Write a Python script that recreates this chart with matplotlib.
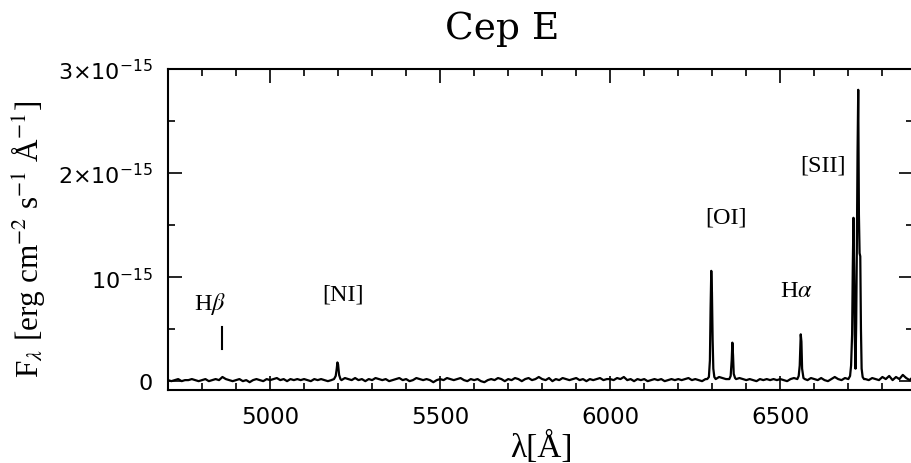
import numpy as np
import matplotlib
matplotlib.use('Agg')
import matplotlib.pyplot as plt
from matplotlib.ticker import MultipleLocator

# continuum on a 10 A grid (units of 1e-15 erg cm-2 s-1 A-1)
cont_wave = np.arange(4700, 6900, 10)
cont_flux = [
    0.01, 0.00, 0.01, 0.02, 0.00, 0.01, 0.01, 0.02, 0.01, 0.00,
    0.01, 0.02, 0.00, 0.01, 0.02, 0.01, 0.04, 0.02, 0.01, 0.00,
    0.01, 0.02, 0.00, 0.01, -0.01, 0.01, 0.02, 0.01, 0.00, 0.02,
    0.01, 0.02, 0.03, 0.01, 0.02, 0.00, 0.02, 0.01, 0.02, 0.01,
    0.02, 0.01, 0.00, 0.02, 0.01, 0.02, 0.01, 0.00, 0.01, 0.02,
    0.02, 0.01, 0.03, 0.02, 0.01, 0.03, 0.01, 0.02, 0.00, 0.02,
    0.01, 0.03, 0.02, 0.01, 0.02, 0.00, 0.01, 0.02, 0.03, 0.01,
    0.02, 0.00, 0.01, 0.03, 0.02, 0.01, 0.02, 0.01, -0.01, 0.01,
    0.02, 0.01, 0.03, 0.02, 0.01, 0.02, 0.03, 0.01, 0.00, 0.02,
    0.01, 0.02, 0.00, -0.01, 0.01, 0.02, 0.01, 0.03, 0.02, 0.00,
    0.02, 0.01, 0.03, 0.02, 0.00, 0.02, 0.03, 0.01, 0.02, 0.04,
    0.02, 0.01, 0.03, 0.00, 0.02, 0.01, 0.03, 0.02, 0.01, 0.02,
    0.03, 0.01, 0.02, 0.00, 0.02, 0.01, 0.02, 0.03, 0.01, 0.02,
    0.02, 0.01, 0.03, 0.02, 0.04, 0.01, 0.02, 0.00, 0.02, 0.01,
    0.02, 0.00, 0.01, 0.02, 0.01, 0.02, 0.00, 0.01, 0.02, 0.01,
    0.02, 0.01, 0.02, 0.03, 0.01, 0.02, 0.01, 0.00, 0.02, 0.03,
    0.04, 0.03, 0.04, 0.03, 0.02, 0.01, 0.03, 0.02, 0.03, 0.02,
    0.01, 0.02, 0.01, 0.00, 0.02, 0.01, 0.02, 0.01, 0.02, 0.01,
    0.02, 0.01, 0.00, 0.02, 0.03, 0.01, 0.04, 0.02, 0.01, 0.03,
    0.02, 0.01, 0.03, 0.01, 0.00, 0.02, 0.04, 0.02, 0.01, 0.03,
    0.02, 0.01, 0.00, 0.02, 0.01, 0.02, 0.01, 0.03, 0.02, 0.01,
    0.04, 0.02, 0.05, 0.01, 0.04, 0.02, 0.06, 0.03, 0.01, 0.04,
]

# emission lines, sampled more finely
ni_wave = [5188, 5193, 5196, 5198, 5200, 5203, 5207, 5210]
ni_flux = [0.02, 0.05, 0.12, 0.18, 0.16, 0.06, 0.02, 0.01]
oi1_wave = [6285, 6290, 6293, 6295, 6297, 6299, 6301, 6303, 6306, 6310]
oi1_flux = [0.02, 0.04, 0.20, 0.70, 1.06, 0.85, 0.40, 0.12, 0.04, 0.02]
oi2_wave = [6350, 6354, 6357, 6359, 6361, 6363, 6367, 6370]
oi2_flux = [0.02, 0.05, 0.20, 0.37, 0.25, 0.07, 0.03, 0.02]
ha_wave = [6550, 6554, 6557, 6560, 6562, 6564, 6568, 6572]
ha_flux = [0.02, 0.05, 0.15, 0.45, 0.38, 0.12, 0.03, 0.02]
sii_wave = [6700, 6705, 6708, 6711, 6713, 6715, 6717, 6719, 6721, 6723,
            6725, 6727, 6729, 6731, 6733, 6735, 6737, 6739, 6742, 6746]
sii_flux = [0.02, 0.05, 0.15, 0.45, 1.10, 1.57, 1.05, 0.40, 0.12, 0.55,
            1.30, 2.20, 2.80, 1.60, 1.23, 1.20, 0.50, 0.12, 0.04, 0.02]

labels = ['H$\\beta$', '[NI]', '[OI]', 'H$\\alpha$', '[SII]']
label_x = [4823, 5215, 6341, 6547, 6624]
label_y = [0.75, 0.84, 1.58, 0.875, 2.08]

lines = [(ni_wave, ni_flux), (oi1_wave, oi1_flux), (oi2_wave, oi2_flux),
         (ha_wave, ha_flux), (sii_wave, sii_flux)]

wave = np.array(cont_wave, dtype=float)
flux = np.array(cont_flux, dtype=float)
keep = np.ones(len(wave), bool)
for lw, lf in lines:
    keep &= ~((wave >= min(lw)) & (wave <= max(lw)))
wave = wave[keep]
flux = flux[keep]
for lw, lf in lines:
    wave = np.concatenate([wave, lw])
    flux = np.concatenate([flux, lf])
order = np.argsort(wave)
wave = wave[order]
flux = flux[order]

fig = plt.figure(figsize=(9.11, 4.64), dpi=100)
ax = fig.add_axes([168/911, 73/464, 745/911, 321/464])

ax.plot(wave, flux, color='black', lw=1.6)
ax.set_xlim(4700, 6890)
ax.set_ylim(-0.085, 3.0)

ax.xaxis.set_major_locator(MultipleLocator(500))
ax.xaxis.set_minor_locator(MultipleLocator(100))
ax.set_yticks([0, 1, 2, 3])
ax.yaxis.set_minor_locator(MultipleLocator(0.5))
ax.set_yticklabels(['0', '10$^{-15}$', '2×10$^{-15}$', '3×10$^{-15}$'],
                   math_fontfamily='dejavusans')
ax.tick_params(which='both', direction='in', top=True, right=True,
               labelsize=16, pad=11, width=1.2)
ax.tick_params(axis='x', labelsize=16.5)
ax.tick_params(which='major', length=10)
ax.tick_params(which='minor', length=5)
for s in ax.spines.values():
    s.set_linewidth(1.5)

serif = ['Liberation Serif', 'DejaVu Serif']
for t, x, y in zip(labels, label_x, label_y):
    ax.text(x, y, t, ha='center', va='center', fontsize=17.5,
            family=serif, math_fontfamily='stix')
# H beta position marker
ax.plot([4860, 4860], [0.31, 0.52], color='black', lw=1.5)

fig.text(541/911, 17/464, '\u03bb[Å]',
         ha='center', va='center', fontsize=24, family=serif)
fig.text(28/911, 0.483, 'F$_\\lambda$ [erg cm$^{-2}$ s$^{-1}$ Å$^{-1}$]',
         rotation=90, ha='center', va='center', fontsize=22.5,
         family=serif, math_fontfamily='stix')
fig.text(502/911, 1 - 29/464, 'Cep E', ha='center', va='center',
         fontsize=27, family='DejaVu Serif')

fig.savefig('out.png', dpi=100)
